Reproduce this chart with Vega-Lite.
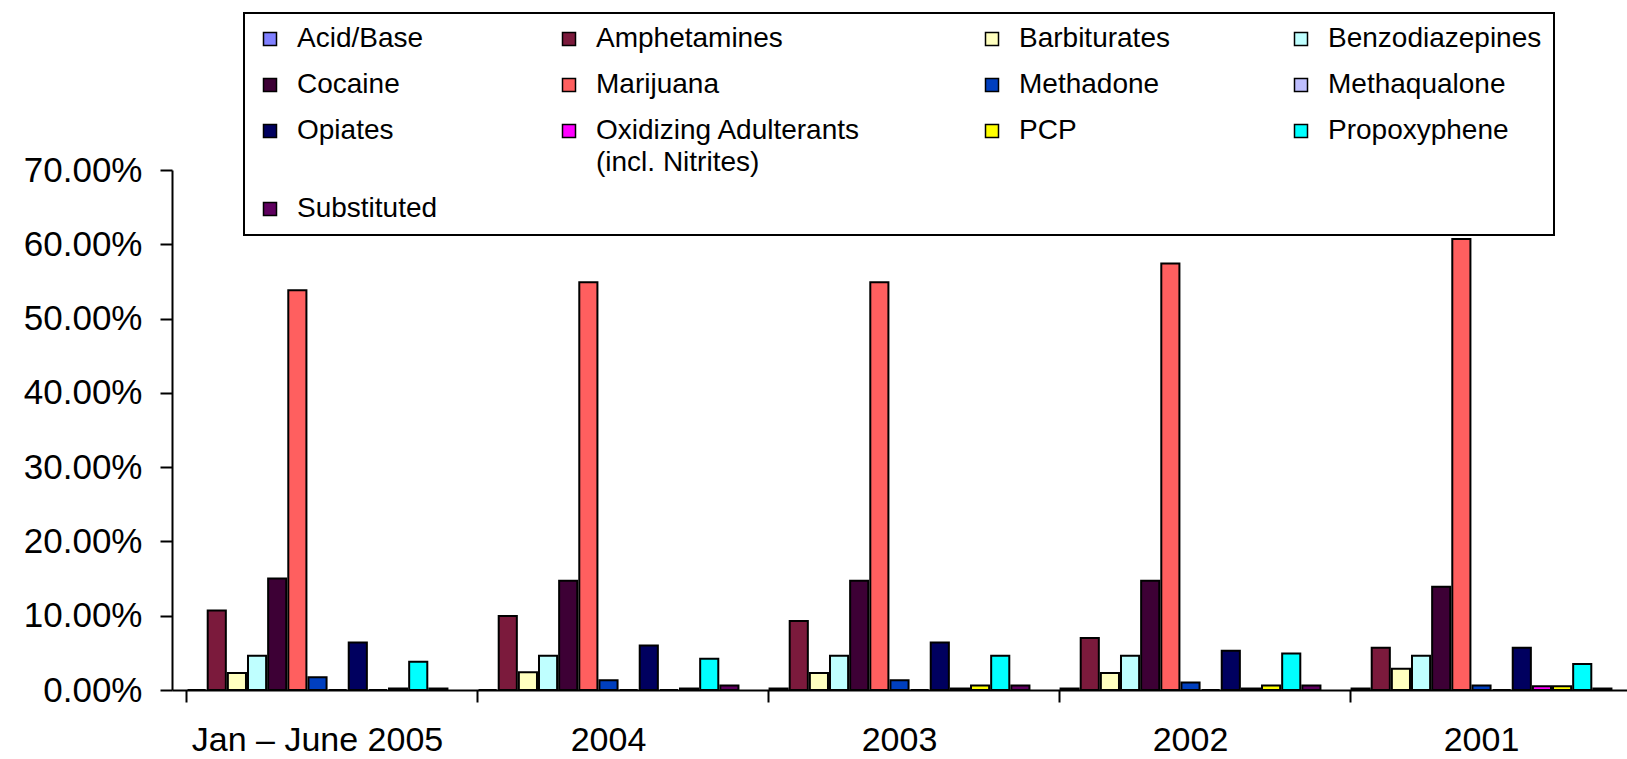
{
  "$schema": "https://vega.github.io/schema/vega-lite/v6.json",
  "autosize": "none",
  "width": 1455,
  "height": 520,
  "padding": {"left": 172, "top": 170, "right": 0, "bottom": 69},
  "background": "white",
  "config": {
    "view": {"stroke": null},
    "font": "Liberation Sans"
  },
  "data": {
    "values": [
      {"period": "Jan – June 2005", "drug": "Acid/Base", "pct": 0},
      {"period": "Jan – June 2005", "drug": "Amphetamines", "pct": 0.107},
      {"period": "Jan – June 2005", "drug": "Barbiturates", "pct": 0.023},
      {"period": "Jan – June 2005", "drug": "Benzodiazepines", "pct": 0.046},
      {"period": "Jan – June 2005", "drug": "Cocaine", "pct": 0.150},
      {"period": "Jan – June 2005", "drug": "Marijuana", "pct": 0.538},
      {"period": "Jan – June 2005", "drug": "Methadone", "pct": 0.017},
      {"period": "Jan – June 2005", "drug": "Methaqualone", "pct": 0},
      {"period": "Jan – June 2005", "drug": "Opiates", "pct": 0.064},
      {"period": "Jan – June 2005", "drug": "Oxidizing Adulterants (incl. Nitrites)", "pct": 0},
      {"period": "Jan – June 2005", "drug": "PCP", "pct": 0.002},
      {"period": "Jan – June 2005", "drug": "Propoxyphene", "pct": 0.038},
      {"period": "Jan – June 2005", "drug": "Substituted", "pct": 0.002},
      {"period": "2004", "drug": "Acid/Base", "pct": 0},
      {"period": "2004", "drug": "Amphetamines", "pct": 0.0995},
      {"period": "2004", "drug": "Barbiturates", "pct": 0.024},
      {"period": "2004", "drug": "Benzodiazepines", "pct": 0.046},
      {"period": "2004", "drug": "Cocaine", "pct": 0.147},
      {"period": "2004", "drug": "Marijuana", "pct": 0.549},
      {"period": "2004", "drug": "Methadone", "pct": 0.013},
      {"period": "2004", "drug": "Methaqualone", "pct": 0},
      {"period": "2004", "drug": "Opiates", "pct": 0.060},
      {"period": "2004", "drug": "Oxidizing Adulterants (incl. Nitrites)", "pct": 0},
      {"period": "2004", "drug": "PCP", "pct": 0.002},
      {"period": "2004", "drug": "Propoxyphene", "pct": 0.042},
      {"period": "2004", "drug": "Substituted", "pct": 0.006},
      {"period": "2003", "drug": "Acid/Base", "pct": 0.002},
      {"period": "2003", "drug": "Amphetamines", "pct": 0.093},
      {"period": "2003", "drug": "Barbiturates", "pct": 0.023},
      {"period": "2003", "drug": "Benzodiazepines", "pct": 0.046},
      {"period": "2003", "drug": "Cocaine", "pct": 0.147},
      {"period": "2003", "drug": "Marijuana", "pct": 0.549},
      {"period": "2003", "drug": "Methadone", "pct": 0.013},
      {"period": "2003", "drug": "Methaqualone", "pct": 0},
      {"period": "2003", "drug": "Opiates", "pct": 0.064},
      {"period": "2003", "drug": "Oxidizing Adulterants (incl. Nitrites)", "pct": 0.002},
      {"period": "2003", "drug": "PCP", "pct": 0.006},
      {"period": "2003", "drug": "Propoxyphene", "pct": 0.046},
      {"period": "2003", "drug": "Substituted", "pct": 0.006},
      {"period": "2002", "drug": "Acid/Base", "pct": 0.002},
      {"period": "2002", "drug": "Amphetamines", "pct": 0.070},
      {"period": "2002", "drug": "Barbiturates", "pct": 0.023},
      {"period": "2002", "drug": "Benzodiazepines", "pct": 0.046},
      {"period": "2002", "drug": "Cocaine", "pct": 0.147},
      {"period": "2002", "drug": "Marijuana", "pct": 0.574},
      {"period": "2002", "drug": "Methadone", "pct": 0.010},
      {"period": "2002", "drug": "Methaqualone", "pct": 0},
      {"period": "2002", "drug": "Opiates", "pct": 0.053},
      {"period": "2002", "drug": "Oxidizing Adulterants (incl. Nitrites)", "pct": 0.002},
      {"period": "2002", "drug": "PCP", "pct": 0.006},
      {"period": "2002", "drug": "Propoxyphene", "pct": 0.049},
      {"period": "2002", "drug": "Substituted", "pct": 0.006},
      {"period": "2001", "drug": "Acid/Base", "pct": 0.002},
      {"period": "2001", "drug": "Amphetamines", "pct": 0.057},
      {"period": "2001", "drug": "Barbiturates", "pct": 0.0285},
      {"period": "2001", "drug": "Benzodiazepines", "pct": 0.046},
      {"period": "2001", "drug": "Cocaine", "pct": 0.139},
      {"period": "2001", "drug": "Marijuana", "pct": 0.607},
      {"period": "2001", "drug": "Methadone", "pct": 0.006},
      {"period": "2001", "drug": "Methaqualone", "pct": 0},
      {"period": "2001", "drug": "Opiates", "pct": 0.057},
      {"period": "2001", "drug": "Oxidizing Adulterants (incl. Nitrites)", "pct": 0.005},
      {"period": "2001", "drug": "PCP", "pct": 0.005},
      {"period": "2001", "drug": "Propoxyphene", "pct": 0.035},
      {"period": "2001", "drug": "Substituted", "pct": 0.002}
    ]
  },
  "mark": {"type": "bar", "stroke": "black", "strokeWidth": 2},
  "encoding": {
    "x": {
      "field": "period",
      "type": "nominal",
      "sort": ["Jan – June 2005", "2004", "2003", "2002", "2001"],
      "scale": {"paddingInner": 0.1, "paddingOuter": 0.05},
      "axis": {
        "title": null,
        "labelAngle": 0,
        "labelFont": "Liberation Sans",
        "labelFontSize": 34,
        "labelColor": "black",
        "labelPadding": 21,
        "labelLimit": 500,
        "tickSize": 12,
        "tickColor": "black",
        "tickWidth": 2,
        "bandPosition": 0,
        "domainColor": "black",
        "domainWidth": 2,
        "grid": false
      }
    },
    "xOffset": {
      "field": "drug",
      "type": "nominal",
      "scale": {"paddingInner": 0.1, "paddingOuter": 0.05}
    },
    "y": {
      "field": "pct",
      "type": "quantitative",
      "scale": {"domain": [0, 0.7], "nice": false, "zero": true},
      "axis": {
        "title": null,
        "format": ".2%",
        "values": [0, 0.1, 0.2, 0.3, 0.4, 0.5, 0.6, 0.7],
        "labelFont": "Liberation Sans",
        "labelFontSize": 35,
        "labelColor": "black",
        "labelPadding": 18,
        "tickSize": 12,
        "tickColor": "black",
        "tickWidth": 2,
        "domainColor": "black",
        "domainWidth": 2,
        "grid": false
      }
    },
    "color": {
      "field": "drug",
      "type": "nominal",
      "scale": {
        "domain": ["Acid/Base", "Amphetamines", "Barbiturates", "Benzodiazepines", "Cocaine", "Marijuana", "Methadone", "Methaqualone", "Opiates", "Oxidizing Adulterants (incl. Nitrites)", "PCP", "Propoxyphene", "Substituted"],
        "range": ["#8080FF", "#7B1A3C", "#FFFFBF", "#BFFFFF", "#3D0035", "#FF5F5F", "#003FBF", "#BFBFFF", "#00005F", "#FF00FF", "#FFFF00", "#00FFFF", "#5F005F"]
      },
      "legend": {
        "title": null,
        "orient": "none",
        "direction": "horizontal",
        "legendX": 72,
        "legendY": -157,
        "columns": 4,
        "gridAlign": "each",
        "columnPadding": 117,
        "rowPadding": 18,
        "padding": 12,
        "strokeColor": "black",
        "fillColor": "white",
        "symbolType": "square",
        "symbolSize": 169,
        "symbolStrokeColor": "black",
        "symbolStrokeWidth": 1.5,
        "labelFont": "Liberation Sans",
        "labelFontSize": 28,
        "labelColor": "black",
        "labelOffset": 13,
        "labelLimit": 400,
        "labelExpr": "datum.label == 'Oxidizing Adulterants (incl. Nitrites)' ? ['Oxidizing Adulterants', '(incl. Nitrites)'] : datum.label",
        "encode": {
          "labels": {"update": {"lineHeight": {"value": 32}}},
          "legend": {"update": {"strokeWidth": {"value": 2}}}
        }
      }
    }
  }
}
